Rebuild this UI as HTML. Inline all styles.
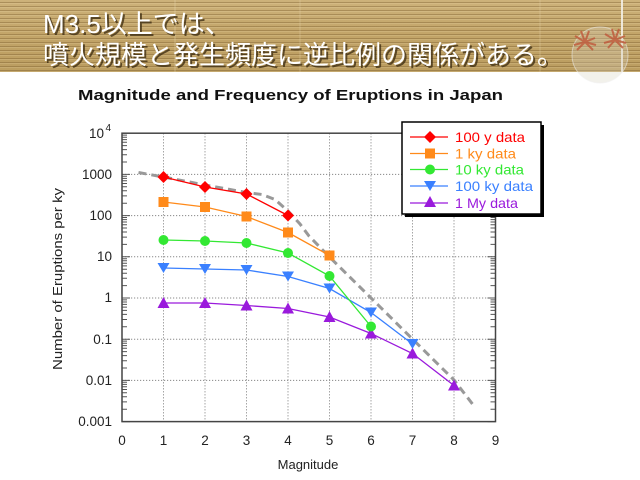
<!DOCTYPE html>
<html><head><meta charset="utf-8">
<style>
html,body{margin:0;padding:0;background:#fff;}
body{width:640px;height:480px;overflow:hidden;position:relative;}
#hdr{position:absolute;left:0;top:0;width:640px;height:72px;
background:
repeating-linear-gradient(180deg, rgba(120,90,40,0.0) 0px, rgba(120,90,40,0.0) 2px, rgba(110,80,35,0.35) 2px, rgba(110,80,35,0.35) 3px, rgba(255,240,200,0.15) 3px, rgba(255,240,200,0.15) 4px),
linear-gradient(180deg,#cdb27a 0%,#c2a468 50%,#bb9d60 100%);}
svg{position:absolute;left:0;top:0;}
</style></head><body>
<div id="hdr"></div>
<svg width="640" height="480" viewBox="0 0 640 480" xmlns="http://www.w3.org/2000/svg">
<defs>
<g id="mt" stroke="#555" stroke-width="1" fill="none">
<path d="M0 -12.4h5M0 -19.7h5M0 -24.8h5M0 -28.8h5M0 -32.1h5M0 -34.8h5M0 -37.2h5M0 -39.3h5M0 0h8"/>
</g>
<path id="dia" d="M0,-6L6,0L0,6L-6,0Z"/>
<path id="tdn" d="M-6,-5L6,-5L0,5Z"/>
<path id="tup" d="M0,-6L6,5L-6,5Z"/>
</defs>

<!-- header decorations -->
<g opacity="0.9">
<line x1="175" y1="0" x2="175" y2="72" stroke="#e8d8b0" stroke-width="1" opacity="0.5"/>
<line x1="300" y1="0" x2="300" y2="72" stroke="#e8d8b0" stroke-width="1" opacity="0.4"/>
<line x1="540" y1="0" x2="540" y2="72" stroke="#e8d8b0" stroke-width="1" opacity="0.4"/>
<line x1="622" y1="0" x2="622" y2="72" stroke="#f4f0e6" stroke-width="2"/>
<circle cx="600" cy="55" r="28" fill="#d8d0c0" opacity="0.35"/>
<circle cx="600" cy="55" r="28" fill="none" stroke="#eee" stroke-width="1" opacity="0.6"/>
<g stroke="#c0553a" stroke-width="2" opacity="0.85">
<path d="M585 42l-10-6M585 42l-4-11M585 42l4-11M585 42l10-4M585 42l11 3M585 42l-11 3M585 42l-8 8M585 42l8 8"/>
<path d="M615 40l-10-6M615 40l-3-11M615 40l4-11M615 40l10-4M615 40l11 3M615 40l-11 3M615 40l-7 8M615 40l8 8"/>
</g>
</g>

<!-- header text -->
<g font-family="'Liberation Sans','Noto Sans CJK JP',sans-serif" font-size="26">
<text x="45" y="35" fill="#3a2a10" opacity="0.75">M3.5以上では、</text>
<text x="43" y="33" fill="#fff">M3.5以上では、</text>
<text x="45" y="66" fill="#3a2a10" opacity="0.75" font-family="'Noto Sans CJK JP',sans-serif">噴火規模と発生頻度に逆比例の関係がある。</text>
<text x="43" y="64" fill="#fff" font-family="'Noto Sans CJK JP',sans-serif">噴火規模と発生頻度に逆比例の関係がある。</text>
</g>

<!-- title -->
<text x="78" y="100" font-family="'Liberation Sans',sans-serif" font-size="14.5" font-weight="bold" fill="#111" textLength="425" lengthAdjust="spacingAndGlyphs">Magnitude and Frequency of Eruptions in Japan</text>

<!-- grid -->
<g stroke="#888" stroke-width="1" stroke-dasharray="1.2 1.8">
<path d="M122 174.4H495.5M122 215.6H495.5M122 256.8H495.5M122 298H495.5M122 339.2H495.5M122 380.4H495.5"/>
<path d="M163.5 133.2V421.6M205 133.2V421.6M246.5 133.2V421.6M288 133.2V421.6M329.5 133.2V421.6M371 133.2V421.6M412.5 133.2V421.6M454 133.2V421.6"/>
</g>

<!-- minor ticks -->
<use href="#mt" transform="translate(122,421.6)"/>
<use href="#mt" transform="translate(122,380.4)"/>
<use href="#mt" transform="translate(122,339.2)"/>
<use href="#mt" transform="translate(122,298)"/>
<use href="#mt" transform="translate(122,256.8)"/>
<use href="#mt" transform="translate(122,215.6)"/>
<use href="#mt" transform="translate(122,174.4)"/>
<use href="#mt" transform="translate(495.5,421.6) scale(-1,1)"/>
<use href="#mt" transform="translate(495.5,380.4) scale(-1,1)"/>
<use href="#mt" transform="translate(495.5,339.2) scale(-1,1)"/>
<use href="#mt" transform="translate(495.5,298) scale(-1,1)"/>
<use href="#mt" transform="translate(495.5,256.8) scale(-1,1)"/>
<use href="#mt" transform="translate(495.5,215.6) scale(-1,1)"/>
<use href="#mt" transform="translate(495.5,174.4) scale(-1,1)"/>

<!-- frame -->
<rect x="122" y="133.2" width="373.5" height="288.4" fill="none" stroke="#444" stroke-width="1.5"/>

<!-- y labels -->
<g font-family="'Liberation Sans',sans-serif" font-size="13.5" fill="#222" text-anchor="end">
<text x="104" y="138">10</text>
<text x="111" y="131" font-size="10">4</text>
<text x="112" y="179">1000</text>
<text x="112" y="220">100</text>
<text x="112" y="261">10</text>
<text x="112" y="302">1</text>
<text x="112" y="344">0.1</text>
<text x="112" y="385">0.01</text>
<text x="112" y="426">0.001</text>
</g>
<!-- x labels -->
<g font-family="'Liberation Sans',sans-serif" font-size="13.5" fill="#222" text-anchor="middle">
<text x="122" y="445">0</text>
<text x="163.5" y="445">1</text>
<text x="205" y="445">2</text>
<text x="246.5" y="445">3</text>
<text x="288" y="445">4</text>
<text x="329.5" y="445">5</text>
<text x="371" y="445">6</text>
<text x="412.5" y="445">7</text>
<text x="454" y="445">8</text>
<text x="495.5" y="445">9</text>
<text x="308" y="469" font-size="13">Magnitude</text>
<text transform="translate(62,279) rotate(-90)" font-size="13" textLength="182" lengthAdjust="spacingAndGlyphs">Number of Eruptions per ky</text>
</g>

<!-- dashed trend -->
<path d="M138.5 172.5L163.5 177L205 185L246.5 192.5L262 194.5L275 199.5L288 211L300 224L309 236L329.5 257L371 298L412.5 339L454 380L474 406" fill="none" stroke="#999" stroke-width="3" stroke-dasharray="8 5"/>

<!-- series -->
<g fill="none" stroke-width="1.3">
<polyline stroke="#9a1adc" points="163.5,303 205,303 246.5,305.5 288,308.5 329.5,317 371,333.5 412.5,353.5 454,385.5"/>
<polyline stroke="#3a80ff" points="163.5,268 205,269 246.5,270 288,276.5 329.5,288.5 371,312.5 412.5,344"/>
<polyline stroke="#33e833" points="163.5,240 205,241 246.5,243 288,253 329.5,276 371,326.5"/>
<polyline stroke="#ff8a1a" points="163.5,202 205,207 246.5,216.5 288,232.5 329.5,255.5"/>
<polyline stroke="#ff0000" points="163.5,177 205,187 246.5,194 288,215.5"/>
</g>
<g fill="#9a1adc">
<use href="#tup" x="163.5" y="303"/><use href="#tup" x="205" y="303"/><use href="#tup" x="246.5" y="305.5"/><use href="#tup" x="288" y="308.5"/><use href="#tup" x="329.5" y="317"/><use href="#tup" x="371" y="333.5"/><use href="#tup" x="412.5" y="353.5"/><use href="#tup" x="454" y="385.5"/>
</g>
<g fill="#3a80ff">
<use href="#tdn" x="163.5" y="268"/><use href="#tdn" x="205" y="269"/><use href="#tdn" x="246.5" y="270"/><use href="#tdn" x="288" y="276.5"/><use href="#tdn" x="329.5" y="288.5"/><use href="#tdn" x="371" y="312.5"/><use href="#tdn" x="412.5" y="344"/>
</g>
<g fill="#33e833">
<circle cx="163.5" cy="240" r="5"/><circle cx="205" cy="241" r="5"/><circle cx="246.5" cy="243" r="5"/><circle cx="288" cy="253" r="5"/><circle cx="329.5" cy="276" r="5"/><circle cx="371" cy="326.5" r="5"/>
</g>
<g fill="#ff8a1a">
<rect x="158.5" y="197" width="10" height="10"/><rect x="200" y="202" width="10" height="10"/><rect x="241.5" y="211.5" width="10" height="10"/><rect x="283" y="227.5" width="10" height="10"/><rect x="324.5" y="250.5" width="10" height="10"/>
</g>
<g fill="#ff0000">
<use href="#dia" x="163.5" y="177"/><use href="#dia" x="205" y="187"/><use href="#dia" x="246.5" y="194"/><use href="#dia" x="288" y="215.5"/>
</g>

<!-- legend -->
<rect x="405" y="125" width="139" height="92" fill="#000"/>
<rect x="402" y="122" width="139" height="92" fill="#fff" stroke="#000" stroke-width="1.5"/>
<g stroke-width="1.3">
<line x1="410" y1="137" x2="448" y2="137" stroke="#ff0000"/>
<line x1="410" y1="153.5" x2="448" y2="153.5" stroke="#ff8a1a"/>
<line x1="410" y1="169.5" x2="448" y2="169.5" stroke="#33e833"/>
<line x1="410" y1="186" x2="448" y2="186" stroke="#3a80ff"/>
<line x1="410" y1="203" x2="448" y2="203" stroke="#9a1adc"/>
</g>
<use href="#dia" x="430" y="137" fill="#ff0000"/>
<rect x="425" y="148.5" width="10" height="10" fill="#ff8a1a"/>
<circle cx="430" cy="169.5" r="5" fill="#33e833"/>
<use href="#tdn" x="430" y="186" fill="#3a80ff"/>
<use href="#tup" x="430" y="202" fill="#9a1adc"/>
<g font-family="'Liberation Sans',sans-serif" font-size="14">
<text x="455" y="142" fill="#ff0000" textLength="70" lengthAdjust="spacingAndGlyphs">100 y data</text>
<text x="455" y="158.5" fill="#ff8a1a" textLength="61" lengthAdjust="spacingAndGlyphs">1 ky data</text>
<text x="455" y="174.5" fill="#33e833" textLength="69" lengthAdjust="spacingAndGlyphs">10 ky data</text>
<text x="455" y="191" fill="#3a80ff" textLength="78" lengthAdjust="spacingAndGlyphs">100 ky data</text>
<text x="455" y="208" fill="#9a1adc" textLength="63" lengthAdjust="spacingAndGlyphs">1 My data</text>
</g>
</svg>
</body></html>
